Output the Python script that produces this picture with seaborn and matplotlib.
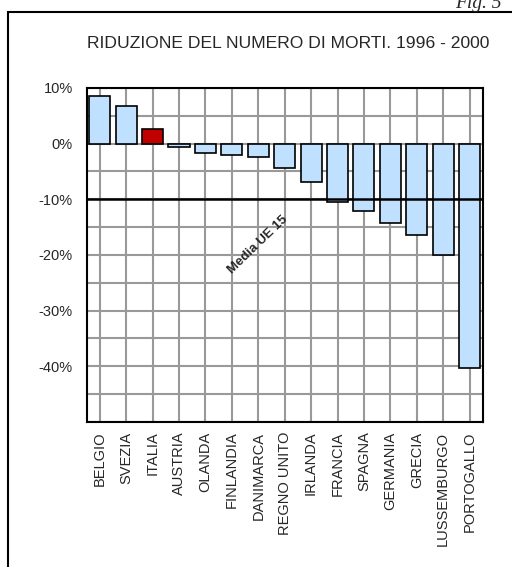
import matplotlib
matplotlib.use("Agg")
import matplotlib.pyplot as plt
import seaborn as sns
import pandas as pd
from matplotlib.patches import Rectangle

paesi = ["BELGIO", "SVEZIA", "ITALIA", "AUSTRIA", "OLANDA", "FINLANDIA", "DANIMARCA",
         "REGNO UNITO", "IRLANDA", "FRANCIA", "SPAGNA", "GERMANIA", "GRECIA",
         "LUSSEMBURGO", "PORTOGALLO"]
variazione = [8.5, 6.8, 2.7, -0.6, -1.7, -2.0, -2.5, -4.4, -6.9, -10.5, -12.1, -14.3,
              -16.5, -20.0, -40.3]
media_ue = -10.0
yticks = [10, 5, 0, -5, -10, -15, -20, -25, -30, -35, -40, -45, -50]

sns.set_style("white")
plt.rcParams['font.family'] = ['Liberation Sans', 'DejaVu Sans']

df = pd.DataFrame({"paese": paesi, "var": variazione})
colori = ["#C00000" if p == "ITALIA" else "#C0E0FF" for p in paesi]

fig = plt.figure(figsize=(5.12, 5.67), dpi=100)
ax = fig.add_axes([0.169, 0.256, 0.774, 0.589])

sns.barplot(data=df, x="paese", y="var", hue="paese", palette=colori, legend=False,
            width=0.8, edgecolor="black", linewidth=1.2, saturation=1, ax=ax)
ax.set_axisbelow(True)
ax.grid(True, axis="both", color="#999999", linewidth=1.5)

ax.axhline(media_ue, color="black", linewidth=1.8, zorder=3)
ax.text(6.0, -18.2, "Media UE 15", rotation=44, ha="center", va="center",
        fontsize=9.5, fontweight="bold")

ax.set_xlim(-0.5, len(paesi) - 0.5)
ax.set_ylim(-50, 10)
ax.set_yticks(yticks)
ax.set_yticklabels(["%d%%" % v if v % 10 == 0 and v != -50 else "" for v in yticks])
ax.tick_params(axis="y", length=0, labelsize=10.5, pad=10)
ax.tick_params(axis="x", length=0, labelsize=10.5, rotation=90, pad=7)
ax.set_xlabel("")
ax.set_ylabel("")
for s in ax.spines.values():
    s.set_color("black")
    s.set_linewidth(1.5)

fig.text(0.5625, 0.924, "RIDUZIONE DEL NUMERO DI MORTI. 1996 - 2000",
         ha="center", va="center", fontsize=12.6)
fig.text(0.889, 0.986, "Fig. 5", ha="left", va="baseline", fontsize=14,
         family="Liberation Serif", style="italic")
fig.patches.append(Rectangle((8 / 512, -0.1), 1.2, 1 - 12 / 567 + 0.1,
                             transform=fig.transFigure, fill=False,
                             edgecolor="black", linewidth=1.5))

fig.savefig("out.png", dpi=100)
